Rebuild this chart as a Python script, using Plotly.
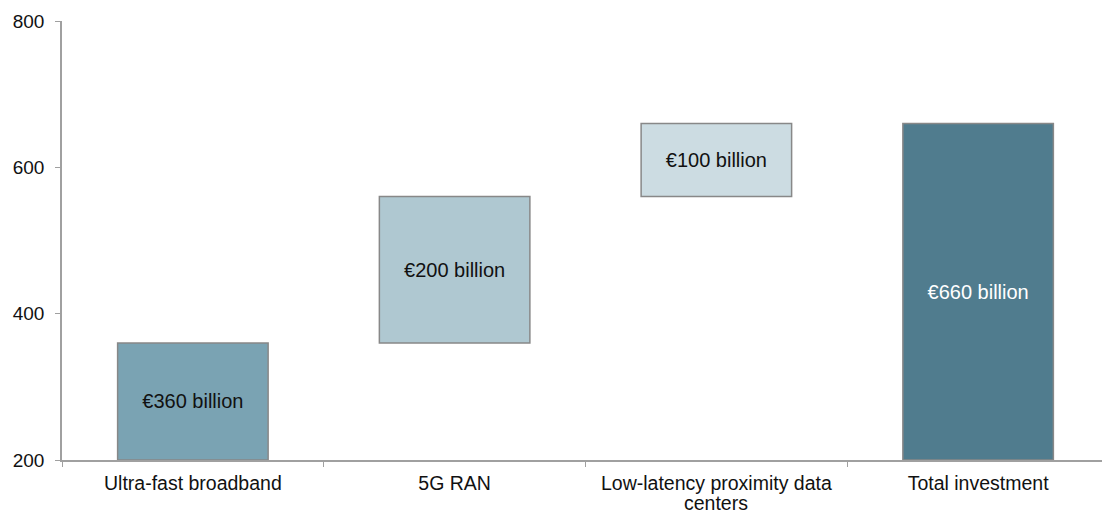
import plotly.graph_objects as go

categories = ["Ultra-fast broadband", "5G RAN", "Low-latency proximity data centers", "Total investment"]
category_lines = [["Ultra-fast broadband"], ["5G RAN"], ["Low-latency proximity data", "centers"], ["Total investment"]]
values = [360, 200, 100, 660]
is_total = [False, False, False, True]
labels = ["€360 billion", "€200 billion", "€100 billion", "€660 billion"]
colors = ["#7AA3B3", "#AFC8D1", "#CCDCE2", "#507C8E"]
text_colors = ["#111111", "#111111", "#111111", "#FFFFFF"]
y_ticks = [200, 400, 600, 800]
y_min, y_max = 200, 800

# waterfall bases (bars are floored at the axis minimum so labels centre in visible part)
bases, heights = [], []
running = 0
for v, tot in zip(values, is_total):
    if tot:
        start, end = 0, v
    else:
        start, end = running, running + v
        running = end
    b = max(start, y_min)
    bases.append(b)
    heights.append(end - b)

FONT = "Liberation Sans, Arial, sans-serif"

fig = go.Figure(go.Bar(
    x=categories, y=heights, base=bases,
    marker=dict(color=colors, line=dict(color="#888888", width=1.5)),
    text=labels, textposition="inside", insidetextanchor="middle",
    textfont=dict(family=FONT, size=20, color=text_colors),
    constraintext="none", hoverinfo="skip", width=0.575,
))

# extra wrapped lines of category labels (tighter line spacing than plotly's default)
for cat, lines in zip(categories, category_lines):
    for i, line in enumerate(lines[1:], start=1):
        fig.add_annotation(
            x=cat, xref="x", y=0, yref="paper", text=line, showarrow=False,
            yanchor="middle", yshift=-(23 + 20 * i), borderpad=0,
            font=dict(family=FONT, size=19.5, color="#111111"),
        )

fig.update_layout(
    width=1102, height=515,
    margin=dict(l=62, r=0, t=21, b=55, autoexpand=False),
    paper_bgcolor="white", plot_bgcolor="white",
    showlegend=False,
    font=dict(family=FONT, size=20, color="#111111"),
    uniformtext=dict(minsize=20, mode="show"),
)
fig.update_xaxes(
    range=[-0.5, 3.5 - 7 / 262], showline=True, linecolor="#A0A0A0", linewidth=1.5,
    tickmode="array", tickvals=categories, ticktext=[l[0] for l in category_lines],
    ticks="outside", tickson="boundaries", ticklen=5, tickcolor="#A0A0A0",
    tickfont=dict(family=FONT, size=19.5, color="#111111"),
    showgrid=False, zeroline=False, fixedrange=True, ticklabelstandoff=5,
    automargin=False,
)
fig.update_yaxes(
    range=[y_min, y_max], tickvals=y_ticks, showline=True, linecolor="#A0A0A0", linewidth=1.5,
    ticks="outside", ticklen=5, tickcolor="#A0A0A0", showgrid=False, zeroline=False,
    tickfont=dict(family=FONT, size=19, color="#111111"),
    ticklabelstandoff=7, automargin=False,
)

fig.write_html("out.html")
